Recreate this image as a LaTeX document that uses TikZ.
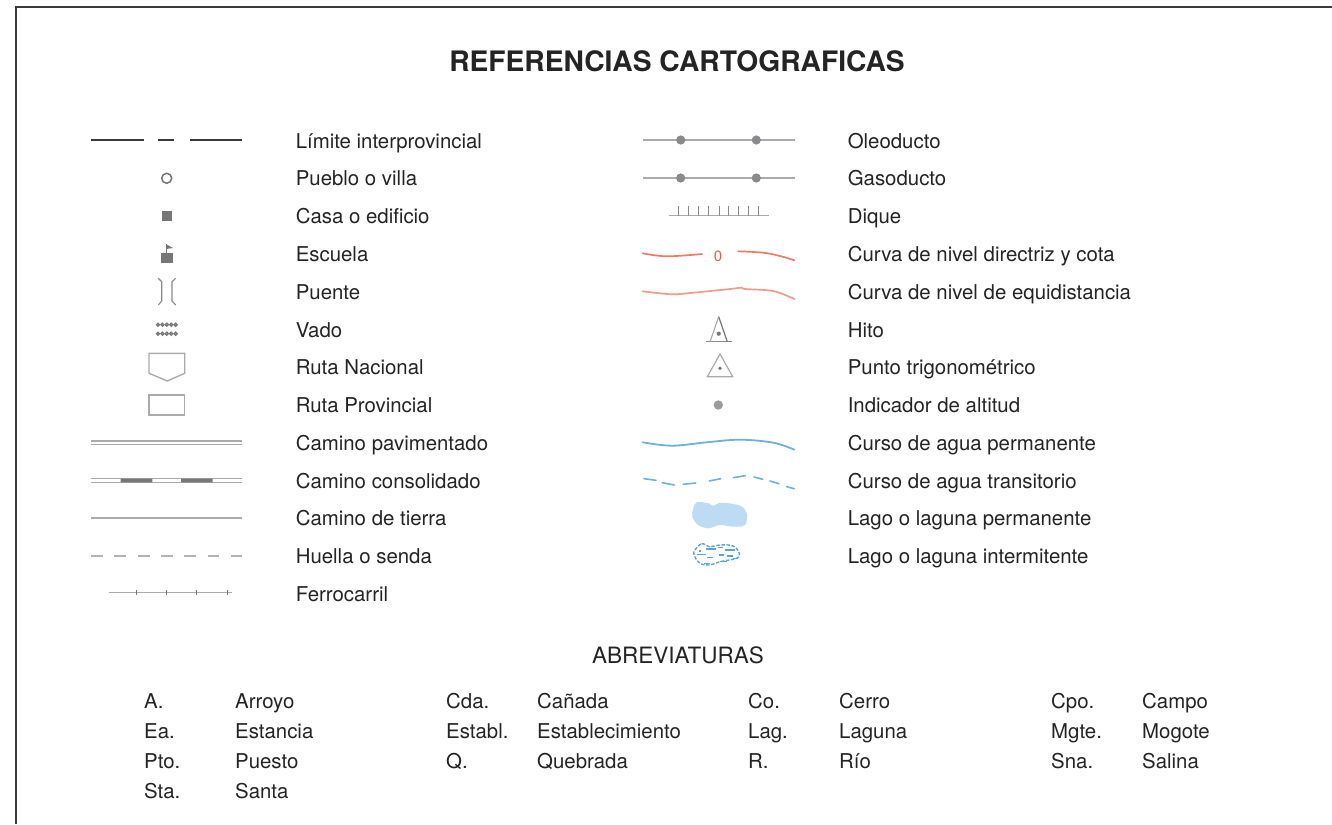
\documentclass[tikz,border=0pt]{standalone}
\usepackage{fontspec}
\setmainfont{TeX Gyre Heros}
\definecolor{ink}{HTML}{242424}
\definecolor{dark}{HTML}{3A3A3C}
\definecolor{sym}{HTML}{77777A}
\definecolor{mid}{HTML}{8A8A8C}
\definecolor{lite}{HTML}{ABABAD}
\definecolor{salm}{HTML}{EE7A68}
\definecolor{salmb}{HTML}{F29A8C}
\definecolor{zero}{HTML}{EE5A48}
\definecolor{water}{HTML}{6FB0DC}
\definecolor{lake}{HTML}{BDDCF3}
\definecolor{lakeb}{HTML}{5AA5D8}
\tikzset{
  x=1pt,y=-1pt,
  lab/.style={anchor=base west,inner sep=0pt,text=ink,font=\fontsize{20.4}{24}\selectfont},
  ttl/.style={anchor=base,inner sep=0pt,text=ink,font=\fontsize{28.2}{34}\selectfont\bfseries},
  sub/.style={anchor=base,inner sep=0pt,text=ink,font=\fontsize{22.5}{26}\selectfont},
  limit/.style={draw=dark,line width=2pt},
  solidsym/.style={fill=sym,draw=none},
  outl/.style={draw=lite,line width=1.4pt},
  road/.style={draw=lite,line width=1.4pt},
  pipe/.style={draw=lite,line width=1.5pt},
  pipedot/.style={fill=mid,draw=none},
  contour/.style={draw=salm,line width=1.7pt,line cap=round},
  river/.style={draw=water,line width=1.8pt,line cap=round},
  lakeline/.style={draw=lakeb,line width=1.2pt},
}
\newcommand{\Lrow}[2]{\node[lab] at (295.6,#1+7) {#2};}
\newcommand{\Rrow}[2]{\node[lab] at (847.6,#1+7) {#2};}
\begin{document}
\begin{tikzpicture}
\useasboundingbox (0,0) rectangle (1332,824);
\fill[white] (0,0) rectangle (1332,824);
\draw[draw=dark,line width=2pt] (15.5,824) -- (15.5,7.5) -- (1332,7.5);
% titles
\node[ttl] (title) at (677,71.5) {REFERENCIAS CARTOGRAFICAS};
\node[sub] (abrev) at (678,663) {ABREVIATURAS};
% left labels
\Lrow{141}{Límite interprovincial}
\Lrow{178.7}{Pueblo o villa}
\Lrow{216.5}{Casa o edificio}
\Lrow{254.5}{Escuela}
\Lrow{292.5}{Puente}
\Lrow{330}{Vado}
\Lrow{367.5}{Ruta Nacional}
\Lrow{405.5}{Ruta Provincial}
\Lrow{443}{Camino pavimentado}
\Lrow{481}{Camino consolidado}
\Lrow{518.5}{Camino de tierra}
\Lrow{556}{Huella o senda}
\Lrow{594.5}{Ferrocarril}
% right labels
\Rrow{141}{Oleoducto}
\Rrow{178.7}{Gasoducto}
\Rrow{216.5}{Dique}
\Rrow{254.5}{Curva de nivel directriz y cota}
\Rrow{292.5}{Curva de nivel de equidistancia}
\Rrow{330}{Hito}
\Rrow{367.5}{Punto trigonométrico}
\Rrow{405.5}{Indicador de altitud}
\Rrow{443}{Curso de agua permanente}
\Rrow{481}{Curso de agua transitorio}
\Rrow{518.5}{Lago o laguna permanente}
\Rrow{556}{Lago o laguna intermitente}
% abbreviations
\foreach \xa/\xb/\ya/\a/\b in {
 144/235/708/A./Arroyo, 446/537/708/Cda./Cañada, 748/839/708/Co./Cerro, 1051/1142/708/Cpo./Campo,
 144/235/738.7/Ea./Estancia, 446/537/738.7/Establ./Establecimiento, 748/839/738.7/Lag./Laguna, 1051/1142/738.7/Mgte./Mogote,
 144/235/768.7/Pto./Puesto, 446/537/768.7/Q./Quebrada, 748/839/768.7/R./Río, 1051/1142/768.7/Sna./Salina,
 144/235/798.7/Sta./Santa}{
  \node[lab] at (\xa,\ya) {\a};
  \node[lab] at (\xb,\ya) {\b};
}
% Limite
\draw[limit] (91,140) -- (144,140) (158,140) -- (174,140) (189.5,140) -- (242,140);
% Pueblo
\draw[draw=sym,line width=1.5pt] (166.7,178.3) circle[radius=5];
% Casa
\fill[solidsym] (162,211) rectangle (171.7,220.7);
% Escuela
\fill[solidsym] (161,252.7) rectangle (172.5,262.7);
\draw[draw=sym,line width=1pt] (166.3,253) -- (166.3,244.3);
\fill[solidsym] (166.3,244.3) -- (173,248) -- (166.3,249) -- cycle;
% Puente
\draw[draw=mid,line width=1.1pt] (158.3,278.3) -- (161.7,281.7) -- (161.7,301) -- (158.3,305);
\draw[draw=mid,line width=1.1pt] (175.7,278.3) -- (172,281.7) -- (172,301) -- (175.7,305);
% Vado
\foreach \yy in {324.7,333.7}{\foreach \xx in {158,162.4,166.8,171.2,175.6}{
  \draw[draw=sym,line width=1.2pt,fill=white!35!sym] (\xx,\yy) circle[radius=1.6];}}
% Rutas
\draw[outl] (149,353.3) -- (184.7,353.3) -- (184.7,373.3) -- (167.3,381) -- (149,373.3) -- cycle;
\draw[outl] (149,395) rectangle (184.7,415);
% Caminos
\draw[road] (91,441) -- (242,441) (91,444.7) -- (242,444.7);
\draw[road] (91,478.7) -- (242,478.7) (91,482.3) -- (242,482.3);
\fill[solidsym] (120.7,478.6) rectangle (152.3,482.4) (181,478.6) rectangle (212.7,482.4);
\draw[draw=lite,line width=1.7pt] (91,518) -- (242,518);
\draw[draw=lite!90,line width=1.9pt] (91,556.3) -- (103,556.3) (114,556.3) -- (126,556.3) (138,556.3) -- (150,556.3) (161,556.3) -- (173,556.3) (184,556.3) -- (196,556.3) (207.5,556.3) -- (219,556.3) (230.5,556.3) -- (242,556.3);
% Ferrocarril
\draw[road] (109,592.3) -- (232,592.3);
\draw[draw=sym,line width=.9pt] (136.5,589.5) -- (136.5,595) (166.5,589.5) -- (166.5,595) (196.5,589.5) -- (196.5,595) (227,589.5) -- (227,595);
% Ductos
\foreach \yy in {140,178}{
  \draw[pipe] (643,\yy) -- (794.5,\yy);
  \fill[pipedot] (680.7,\yy) circle[radius=4.6] (756.3,\yy) circle[radius=4.6];
}
% Dique
\draw[draw=lite,line width=1.4pt] (669,215.7) -- (768.7,215.7);
\foreach \xx in {678.7,688.7,698.3,708.7,719,728.3,738.3,748,758.7}{
  \draw[draw=mid,line width=1pt] (\xx,215.7) -- (\xx,205.7);}
% Curvas
\draw[contour] plot[smooth,tension=.6] coordinates {(642.7,253.3) (666.7,256.3) (702,254)};
\draw[contour] plot[smooth,tension=.6] coordinates {(738.3,251.3) (763.3,252.7) (780,256) (794.3,260.3)};
\node[inner sep=0pt,text=zero,font=\fontsize{15}{16}\selectfont] (cota) at (718,256) {0};
\draw[contour,draw=salmb] plot[smooth,tension=.5] coordinates {(642.7,291.3) (671.7,294.3) (693.3,292.7) (730,289) (741.7,287.7) (745,289) (773.3,291) (794.3,299)};
% Hito
\draw[draw=mid,line width=1.2pt] (705.7,341.7) -- (731.7,341.7);
\draw[draw=lite,line width=1.1pt] (710,341.7) -- (718.7,316.7);
\draw[draw=sym,line width=1.2pt] (718.7,316.7) -- (727.3,341.7);
\fill[sym] (718.7,333.7) circle[radius=2.1];
% Trig
\draw[draw=lite,line width=1.2pt] (720,354) -- (732.7,376.7) -- (707.3,376.7) -- cycle;
\fill[sym] (720,368.3) circle[radius=1.9];
% Altitud
\fill[mid!85!white] (718.3,405) circle[radius=4.7];
% Cursos
\draw[river] plot[smooth,tension=.6] coordinates {(642.7,442.3) (671.7,445.7) (706.7,442.3) (740,439.7) (773.3,442.7) (794.3,449.7)};
\draw[river,line width=1.6pt]
  (644,478.7) -- (656,480.3) (662.3,482.7) -- (674.3,485)
  (683.3,484.3) -- (695.7,483) (709.3,481) -- (720.7,478.7)
  (733.3,477.7) -- (745.3,475.7) (754,477) -- (762.7,479.3)
  (770,481) -- (779,483.7) (786.7,486.7) -- (794.3,488.7);
% Lagos
\fill[lake] plot[smooth cycle,tension=.6] coordinates {(693.3,508.3) (696.7,502.3) (708.3,503.3) (713.3,505.7) (721.7,502.7) (740,505.7) (746.7,513.3) (745,525) (733.3,526.7) (720,525) (708.3,528.3) (698.3,525) (692.3,516.7)};
\draw[lakeline,dash pattern=on 3.5pt off 1.6pt,line width=1.4pt] plot[smooth cycle,tension=.6] coordinates {(695,550) (701.7,543.7) (710,546.7) (720,545) (733.3,546) (739.3,553.3) (736.7,558.3) (720,561.7) (710,565) (700,563.3) (694,555)};
\draw[lakeline] (706,549) -- (716,549) (718.3,547.5) -- (723.3,547.5) (725,550) -- (735,550)
  (697.3,554.7) -- (706,554.7) (699,551) -- (700.5,551) (706.7,557.3) -- (712.7,557.3)
  (719.3,555) -- (724,555) (727,556) -- (733,556) (733.3,558.3) -- (738,558.3)
  (704,563.3) -- (710,563.3) (720,561.7) -- (726.7,561.7);
\end{tikzpicture}
\end{document}
